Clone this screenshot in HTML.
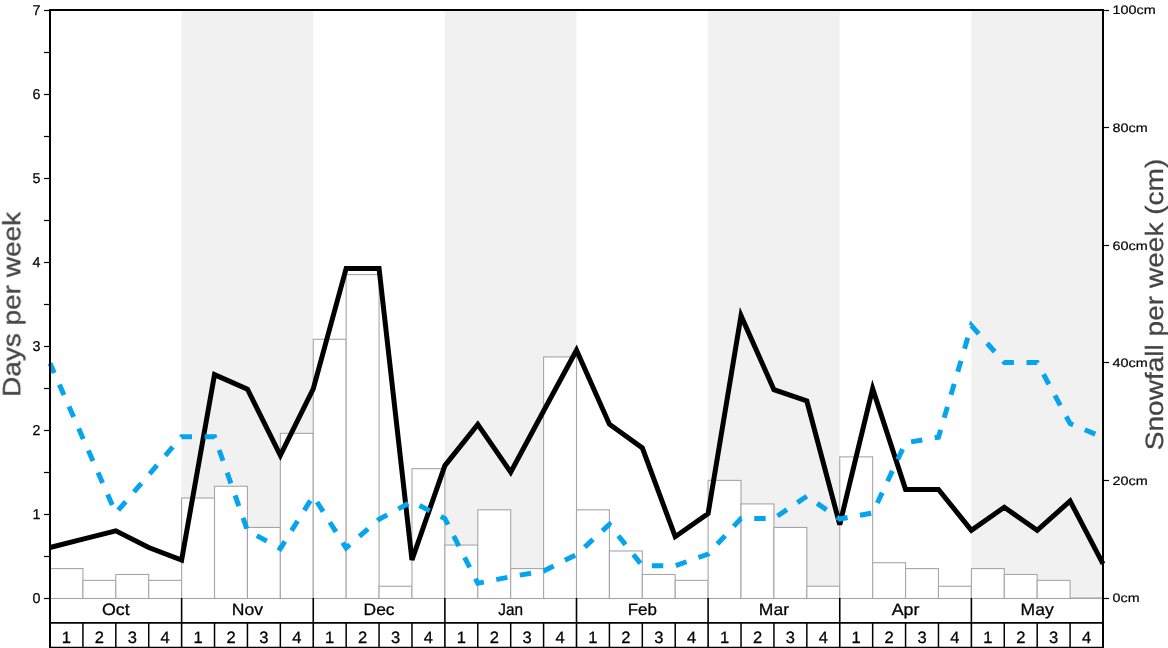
<!DOCTYPE html>
<html lang="en">
<head>
<meta charset="utf-8">
<title>Snowfall chart</title>
<style>
html,body{margin:0;padding:0;background:#fff;}
body{width:1168px;height:648px;overflow:hidden;font-family:"Liberation Sans",sans-serif;}
svg{display:block;}
svg text{text-rendering:geometricPrecision;}
</style>
</head>
<body>
<svg width="1168" height="648" viewBox="0 0 1168 648">
<rect x="0" y="0" width="1168" height="648" fill="#ffffff"/>
<rect x="181.62" y="10.0" width="131.62" height="588.0" fill="#f1f1f1"/>
<rect x="444.88" y="10.0" width="131.62" height="588.0" fill="#f1f1f1"/>
<rect x="708.12" y="10.0" width="131.62" height="588.0" fill="#f1f1f1"/>
<rect x="971.38" y="10.0" width="131.62" height="588.0" fill="#f1f1f1"/>
<rect x="50.00" y="568.60" width="32.91" height="29.90" fill="#ffffff" stroke="#a6a6a6" stroke-width="1.1"/>
<rect x="82.91" y="580.36" width="32.91" height="18.14" fill="#ffffff" stroke="#a6a6a6" stroke-width="1.1"/>
<rect x="115.81" y="574.48" width="32.91" height="24.02" fill="#ffffff" stroke="#a6a6a6" stroke-width="1.1"/>
<rect x="148.72" y="580.36" width="32.91" height="18.14" fill="#ffffff" stroke="#a6a6a6" stroke-width="1.1"/>
<rect x="181.62" y="498.04" width="32.91" height="100.46" fill="#ffffff" stroke="#a6a6a6" stroke-width="1.1"/>
<rect x="214.53" y="486.28" width="32.91" height="112.22" fill="#ffffff" stroke="#a6a6a6" stroke-width="1.1"/>
<rect x="247.44" y="527.44" width="32.91" height="71.06" fill="#ffffff" stroke="#a6a6a6" stroke-width="1.1"/>
<rect x="280.34" y="433.36" width="32.91" height="165.14" fill="#ffffff" stroke="#a6a6a6" stroke-width="1.1"/>
<rect x="313.25" y="339.28" width="32.91" height="259.22" fill="#ffffff" stroke="#a6a6a6" stroke-width="1.1"/>
<rect x="346.16" y="274.60" width="32.91" height="323.90" fill="#ffffff" stroke="#a6a6a6" stroke-width="1.1"/>
<rect x="379.06" y="586.24" width="32.91" height="12.26" fill="#ffffff" stroke="#a6a6a6" stroke-width="1.1"/>
<rect x="411.97" y="468.64" width="32.91" height="129.86" fill="#ffffff" stroke="#a6a6a6" stroke-width="1.1"/>
<rect x="444.88" y="545.08" width="32.91" height="53.42" fill="#ffffff" stroke="#a6a6a6" stroke-width="1.1"/>
<rect x="477.78" y="509.80" width="32.91" height="88.70" fill="#ffffff" stroke="#a6a6a6" stroke-width="1.1"/>
<rect x="510.69" y="568.60" width="32.91" height="29.90" fill="#ffffff" stroke="#a6a6a6" stroke-width="1.1"/>
<rect x="543.59" y="356.92" width="32.91" height="241.58" fill="#ffffff" stroke="#a6a6a6" stroke-width="1.1"/>
<rect x="576.50" y="509.80" width="32.91" height="88.70" fill="#ffffff" stroke="#a6a6a6" stroke-width="1.1"/>
<rect x="609.41" y="550.96" width="32.91" height="47.54" fill="#ffffff" stroke="#a6a6a6" stroke-width="1.1"/>
<rect x="642.31" y="574.48" width="32.91" height="24.02" fill="#ffffff" stroke="#a6a6a6" stroke-width="1.1"/>
<rect x="675.22" y="580.36" width="32.91" height="18.14" fill="#ffffff" stroke="#a6a6a6" stroke-width="1.1"/>
<rect x="708.12" y="480.40" width="32.91" height="118.10" fill="#ffffff" stroke="#a6a6a6" stroke-width="1.1"/>
<rect x="741.03" y="503.92" width="32.91" height="94.58" fill="#ffffff" stroke="#a6a6a6" stroke-width="1.1"/>
<rect x="773.94" y="527.44" width="32.91" height="71.06" fill="#ffffff" stroke="#a6a6a6" stroke-width="1.1"/>
<rect x="806.84" y="586.24" width="32.91" height="12.26" fill="#ffffff" stroke="#a6a6a6" stroke-width="1.1"/>
<rect x="839.75" y="456.88" width="32.91" height="141.62" fill="#ffffff" stroke="#a6a6a6" stroke-width="1.1"/>
<rect x="872.66" y="562.72" width="32.91" height="35.78" fill="#ffffff" stroke="#a6a6a6" stroke-width="1.1"/>
<rect x="905.56" y="568.60" width="32.91" height="29.90" fill="#ffffff" stroke="#a6a6a6" stroke-width="1.1"/>
<rect x="938.47" y="586.24" width="32.91" height="12.26" fill="#ffffff" stroke="#a6a6a6" stroke-width="1.1"/>
<rect x="971.38" y="568.60" width="32.91" height="29.90" fill="#ffffff" stroke="#a6a6a6" stroke-width="1.1"/>
<rect x="1004.28" y="574.48" width="32.91" height="24.02" fill="#ffffff" stroke="#a6a6a6" stroke-width="1.1"/>
<rect x="1037.19" y="580.36" width="32.91" height="18.14" fill="#ffffff" stroke="#a6a6a6" stroke-width="1.1"/>
<rect x="1070.09" y="598.00" width="32.91" height="0.50" fill="#ffffff" stroke="#a6a6a6" stroke-width="1.1"/>
<polyline points="50.00,547.50 82.91,539.20 115.81,530.80 148.72,547.50 181.62,560.00 214.53,374.60 247.44,389.20 280.34,455.40 313.25,388.90 346.16,268.40 379.06,268.40 411.97,560.00 444.88,465.60 477.78,424.40 510.69,472.20 543.59,411.00 576.50,350.20 609.41,424.20 642.31,447.90 675.22,536.70 708.12,513.50 741.03,315.70 773.94,389.70 806.84,401.00 839.75,524.60 872.66,388.70 905.56,489.40 938.47,489.40 971.38,530.30 1004.28,507.30 1037.19,530.30 1070.09,501.00 1103.00,563.80" fill="none" stroke="#000000" stroke-width="5" stroke-linejoin="miter" stroke-miterlimit="3.85"/>
<polyline points="50.00,363.30 82.91,438.15 115.81,513.00 148.72,474.85 181.62,436.70 214.53,436.70 247.44,530.50 280.34,548.60 313.25,496.00 346.16,548.00 379.06,519.30 411.97,501.50 444.88,518.60 477.78,583.30 510.69,576.70 543.59,571.00 576.50,554.60 609.41,524.40 642.31,565.80 675.22,565.80 708.12,554.00 741.03,518.40 773.94,518.40 806.84,496.20 839.75,519.00 872.66,513.00 905.56,442.80 938.47,437.20 971.38,325.50 1004.28,362.50 1037.19,362.50 1070.09,423.60 1103.00,437.40" fill="none" stroke="#04a4ee" stroke-width="5" stroke-dasharray="11.4 12.6" stroke-dashoffset="0.7" stroke-linejoin="miter" stroke-miterlimit="3.85"/>
<line x1="50.0" y1="9.0" x2="50.0" y2="648" stroke="#000" stroke-width="2"/>
<line x1="1103.0" y1="9.0" x2="1103.0" y2="648" stroke="#000" stroke-width="2"/>
<line x1="50.0" y1="10.0" x2="1103.0" y2="10.0" stroke="#000" stroke-width="2"/>
<g opacity="0.999">
<line x1="50.0" y1="622.9" x2="1103.0" y2="622.9" stroke="#000" stroke-width="1.8"/>
<line x1="50.0" y1="647.5" x2="1103.0" y2="647.5" stroke="#000" stroke-width="1.6"/>
<line x1="181.62" y1="598.0" x2="181.62" y2="648" stroke="#000" stroke-width="1.6"/>
<line x1="313.25" y1="598.0" x2="313.25" y2="648" stroke="#000" stroke-width="1.6"/>
<line x1="444.88" y1="598.0" x2="444.88" y2="648" stroke="#000" stroke-width="1.6"/>
<line x1="576.50" y1="598.0" x2="576.50" y2="648" stroke="#000" stroke-width="1.6"/>
<line x1="708.12" y1="598.0" x2="708.12" y2="648" stroke="#000" stroke-width="1.6"/>
<line x1="839.75" y1="598.0" x2="839.75" y2="648" stroke="#000" stroke-width="1.6"/>
<line x1="971.38" y1="598.0" x2="971.38" y2="648" stroke="#000" stroke-width="1.6"/>
<line x1="82.91" y1="622.9" x2="82.91" y2="648" stroke="#000" stroke-width="1.5"/>
<line x1="115.81" y1="622.9" x2="115.81" y2="648" stroke="#000" stroke-width="1.5"/>
<line x1="148.72" y1="622.9" x2="148.72" y2="648" stroke="#000" stroke-width="1.5"/>
<line x1="214.53" y1="622.9" x2="214.53" y2="648" stroke="#000" stroke-width="1.5"/>
<line x1="247.44" y1="622.9" x2="247.44" y2="648" stroke="#000" stroke-width="1.5"/>
<line x1="280.34" y1="622.9" x2="280.34" y2="648" stroke="#000" stroke-width="1.5"/>
<line x1="346.16" y1="622.9" x2="346.16" y2="648" stroke="#000" stroke-width="1.5"/>
<line x1="379.06" y1="622.9" x2="379.06" y2="648" stroke="#000" stroke-width="1.5"/>
<line x1="411.97" y1="622.9" x2="411.97" y2="648" stroke="#000" stroke-width="1.5"/>
<line x1="477.78" y1="622.9" x2="477.78" y2="648" stroke="#000" stroke-width="1.5"/>
<line x1="510.69" y1="622.9" x2="510.69" y2="648" stroke="#000" stroke-width="1.5"/>
<line x1="543.59" y1="622.9" x2="543.59" y2="648" stroke="#000" stroke-width="1.5"/>
<line x1="609.41" y1="622.9" x2="609.41" y2="648" stroke="#000" stroke-width="1.5"/>
<line x1="642.31" y1="622.9" x2="642.31" y2="648" stroke="#000" stroke-width="1.5"/>
<line x1="675.22" y1="622.9" x2="675.22" y2="648" stroke="#000" stroke-width="1.5"/>
<line x1="741.03" y1="622.9" x2="741.03" y2="648" stroke="#000" stroke-width="1.5"/>
<line x1="773.94" y1="622.9" x2="773.94" y2="648" stroke="#000" stroke-width="1.5"/>
<line x1="806.84" y1="622.9" x2="806.84" y2="648" stroke="#000" stroke-width="1.5"/>
<line x1="872.66" y1="622.9" x2="872.66" y2="648" stroke="#000" stroke-width="1.5"/>
<line x1="905.56" y1="622.9" x2="905.56" y2="648" stroke="#000" stroke-width="1.5"/>
<line x1="938.47" y1="622.9" x2="938.47" y2="648" stroke="#000" stroke-width="1.5"/>
<line x1="1004.28" y1="622.9" x2="1004.28" y2="648" stroke="#000" stroke-width="1.5"/>
<line x1="1037.19" y1="622.9" x2="1037.19" y2="648" stroke="#000" stroke-width="1.5"/>
<line x1="1070.09" y1="622.9" x2="1070.09" y2="648" stroke="#000" stroke-width="1.5"/>
<text x="115.81" y="614.7" font-size="16.5" text-anchor="middle" textLength="27.7" lengthAdjust="spacingAndGlyphs" font-family="Liberation Sans, sans-serif" fill="#000" stroke="#000" stroke-width="0.3">Oct</text>
<text x="247.44" y="614.7" font-size="16.5" text-anchor="middle" textLength="31.2" lengthAdjust="spacingAndGlyphs" font-family="Liberation Sans, sans-serif" fill="#000" stroke="#000" stroke-width="0.3">Nov</text>
<text x="379.06" y="614.7" font-size="16.5" text-anchor="middle" textLength="31.0" lengthAdjust="spacingAndGlyphs" font-family="Liberation Sans, sans-serif" fill="#000" stroke="#000" stroke-width="0.3">Dec</text>
<text x="510.69" y="614.7" font-size="16.5" text-anchor="middle" textLength="24.7" lengthAdjust="spacingAndGlyphs" font-family="Liberation Sans, sans-serif" fill="#000" stroke="#000" stroke-width="0.3">Jan</text>
<text x="642.31" y="614.7" font-size="16.5" text-anchor="middle" textLength="29.2" lengthAdjust="spacingAndGlyphs" font-family="Liberation Sans, sans-serif" fill="#000" stroke="#000" stroke-width="0.3">Feb</text>
<text x="773.94" y="614.7" font-size="16.5" text-anchor="middle" textLength="30.2" lengthAdjust="spacingAndGlyphs" font-family="Liberation Sans, sans-serif" fill="#000" stroke="#000" stroke-width="0.3">Mar</text>
<text x="905.56" y="614.7" font-size="16.5" text-anchor="middle" textLength="27.7" lengthAdjust="spacingAndGlyphs" font-family="Liberation Sans, sans-serif" fill="#000" stroke="#000" stroke-width="0.3">Apr</text>
<text x="1037.19" y="614.7" font-size="16.5" text-anchor="middle" textLength="33.1" lengthAdjust="spacingAndGlyphs" font-family="Liberation Sans, sans-serif" fill="#000" stroke="#000" stroke-width="0.3">May</text>
<text x="66.45" y="642.8" font-size="16.5" text-anchor="middle" font-family="Liberation Sans, sans-serif" fill="#000" stroke="#000" stroke-width="0.3">1</text>
<text x="99.36" y="642.8" font-size="16.5" text-anchor="middle" font-family="Liberation Sans, sans-serif" fill="#000" stroke="#000" stroke-width="0.3">2</text>
<text x="132.27" y="642.8" font-size="16.5" text-anchor="middle" font-family="Liberation Sans, sans-serif" fill="#000" stroke="#000" stroke-width="0.3">3</text>
<text x="165.17" y="642.8" font-size="16.5" text-anchor="middle" font-family="Liberation Sans, sans-serif" fill="#000" stroke="#000" stroke-width="0.3">4</text>
<text x="198.08" y="642.8" font-size="16.5" text-anchor="middle" font-family="Liberation Sans, sans-serif" fill="#000" stroke="#000" stroke-width="0.3">1</text>
<text x="230.98" y="642.8" font-size="16.5" text-anchor="middle" font-family="Liberation Sans, sans-serif" fill="#000" stroke="#000" stroke-width="0.3">2</text>
<text x="263.89" y="642.8" font-size="16.5" text-anchor="middle" font-family="Liberation Sans, sans-serif" fill="#000" stroke="#000" stroke-width="0.3">3</text>
<text x="296.80" y="642.8" font-size="16.5" text-anchor="middle" font-family="Liberation Sans, sans-serif" fill="#000" stroke="#000" stroke-width="0.3">4</text>
<text x="329.70" y="642.8" font-size="16.5" text-anchor="middle" font-family="Liberation Sans, sans-serif" fill="#000" stroke="#000" stroke-width="0.3">1</text>
<text x="362.61" y="642.8" font-size="16.5" text-anchor="middle" font-family="Liberation Sans, sans-serif" fill="#000" stroke="#000" stroke-width="0.3">2</text>
<text x="395.52" y="642.8" font-size="16.5" text-anchor="middle" font-family="Liberation Sans, sans-serif" fill="#000" stroke="#000" stroke-width="0.3">3</text>
<text x="428.42" y="642.8" font-size="16.5" text-anchor="middle" font-family="Liberation Sans, sans-serif" fill="#000" stroke="#000" stroke-width="0.3">4</text>
<text x="461.33" y="642.8" font-size="16.5" text-anchor="middle" font-family="Liberation Sans, sans-serif" fill="#000" stroke="#000" stroke-width="0.3">1</text>
<text x="494.23" y="642.8" font-size="16.5" text-anchor="middle" font-family="Liberation Sans, sans-serif" fill="#000" stroke="#000" stroke-width="0.3">2</text>
<text x="527.14" y="642.8" font-size="16.5" text-anchor="middle" font-family="Liberation Sans, sans-serif" fill="#000" stroke="#000" stroke-width="0.3">3</text>
<text x="560.05" y="642.8" font-size="16.5" text-anchor="middle" font-family="Liberation Sans, sans-serif" fill="#000" stroke="#000" stroke-width="0.3">4</text>
<text x="592.95" y="642.8" font-size="16.5" text-anchor="middle" font-family="Liberation Sans, sans-serif" fill="#000" stroke="#000" stroke-width="0.3">1</text>
<text x="625.86" y="642.8" font-size="16.5" text-anchor="middle" font-family="Liberation Sans, sans-serif" fill="#000" stroke="#000" stroke-width="0.3">2</text>
<text x="658.77" y="642.8" font-size="16.5" text-anchor="middle" font-family="Liberation Sans, sans-serif" fill="#000" stroke="#000" stroke-width="0.3">3</text>
<text x="691.67" y="642.8" font-size="16.5" text-anchor="middle" font-family="Liberation Sans, sans-serif" fill="#000" stroke="#000" stroke-width="0.3">4</text>
<text x="724.58" y="642.8" font-size="16.5" text-anchor="middle" font-family="Liberation Sans, sans-serif" fill="#000" stroke="#000" stroke-width="0.3">1</text>
<text x="757.48" y="642.8" font-size="16.5" text-anchor="middle" font-family="Liberation Sans, sans-serif" fill="#000" stroke="#000" stroke-width="0.3">2</text>
<text x="790.39" y="642.8" font-size="16.5" text-anchor="middle" font-family="Liberation Sans, sans-serif" fill="#000" stroke="#000" stroke-width="0.3">3</text>
<text x="823.30" y="642.8" font-size="16.5" text-anchor="middle" font-family="Liberation Sans, sans-serif" fill="#000" stroke="#000" stroke-width="0.3">4</text>
<text x="856.20" y="642.8" font-size="16.5" text-anchor="middle" font-family="Liberation Sans, sans-serif" fill="#000" stroke="#000" stroke-width="0.3">1</text>
<text x="889.11" y="642.8" font-size="16.5" text-anchor="middle" font-family="Liberation Sans, sans-serif" fill="#000" stroke="#000" stroke-width="0.3">2</text>
<text x="922.02" y="642.8" font-size="16.5" text-anchor="middle" font-family="Liberation Sans, sans-serif" fill="#000" stroke="#000" stroke-width="0.3">3</text>
<text x="954.92" y="642.8" font-size="16.5" text-anchor="middle" font-family="Liberation Sans, sans-serif" fill="#000" stroke="#000" stroke-width="0.3">4</text>
<text x="987.83" y="642.8" font-size="16.5" text-anchor="middle" font-family="Liberation Sans, sans-serif" fill="#000" stroke="#000" stroke-width="0.3">1</text>
<text x="1020.73" y="642.8" font-size="16.5" text-anchor="middle" font-family="Liberation Sans, sans-serif" fill="#000" stroke="#000" stroke-width="0.3">2</text>
<text x="1053.64" y="642.8" font-size="16.5" text-anchor="middle" font-family="Liberation Sans, sans-serif" fill="#000" stroke="#000" stroke-width="0.3">3</text>
<text x="1086.55" y="642.8" font-size="16.5" text-anchor="middle" font-family="Liberation Sans, sans-serif" fill="#000" stroke="#000" stroke-width="0.3">4</text>
<line x1="44.0" y1="598.50" x2="50.0" y2="598.50" stroke="#000" stroke-width="1.2"/>
<text x="40.5" y="603.10" font-size="14.3" text-anchor="end" font-family="Liberation Sans, sans-serif" fill="#000" stroke="#000" stroke-width="0.25">0</text>
<line x1="44.0" y1="514.50" x2="50.0" y2="514.50" stroke="#000" stroke-width="1.2"/>
<text x="40.5" y="519.10" font-size="14.3" text-anchor="end" font-family="Liberation Sans, sans-serif" fill="#000" stroke="#000" stroke-width="0.25">1</text>
<line x1="44.0" y1="430.50" x2="50.0" y2="430.50" stroke="#000" stroke-width="1.2"/>
<text x="40.5" y="435.10" font-size="14.3" text-anchor="end" font-family="Liberation Sans, sans-serif" fill="#000" stroke="#000" stroke-width="0.25">2</text>
<line x1="44.0" y1="346.50" x2="50.0" y2="346.50" stroke="#000" stroke-width="1.2"/>
<text x="40.5" y="351.10" font-size="14.3" text-anchor="end" font-family="Liberation Sans, sans-serif" fill="#000" stroke="#000" stroke-width="0.25">3</text>
<line x1="44.0" y1="262.50" x2="50.0" y2="262.50" stroke="#000" stroke-width="1.2"/>
<text x="40.5" y="267.10" font-size="14.3" text-anchor="end" font-family="Liberation Sans, sans-serif" fill="#000" stroke="#000" stroke-width="0.25">4</text>
<line x1="44.0" y1="178.50" x2="50.0" y2="178.50" stroke="#000" stroke-width="1.2"/>
<text x="40.5" y="183.10" font-size="14.3" text-anchor="end" font-family="Liberation Sans, sans-serif" fill="#000" stroke="#000" stroke-width="0.25">5</text>
<line x1="44.0" y1="94.50" x2="50.0" y2="94.50" stroke="#000" stroke-width="1.2"/>
<text x="40.5" y="99.10" font-size="14.3" text-anchor="end" font-family="Liberation Sans, sans-serif" fill="#000" stroke="#000" stroke-width="0.25">6</text>
<line x1="44.0" y1="10.50" x2="50.0" y2="10.50" stroke="#000" stroke-width="1.2"/>
<text x="40.5" y="15.10" font-size="14.3" text-anchor="end" font-family="Liberation Sans, sans-serif" fill="#000" stroke="#000" stroke-width="0.25">7</text>
<line x1="44.0" y1="556.50" x2="50.0" y2="556.50" stroke="#000" stroke-width="1.2"/>
<line x1="44.0" y1="472.50" x2="50.0" y2="472.50" stroke="#000" stroke-width="1.2"/>
<line x1="44.0" y1="388.50" x2="50.0" y2="388.50" stroke="#000" stroke-width="1.2"/>
<line x1="44.0" y1="304.50" x2="50.0" y2="304.50" stroke="#000" stroke-width="1.2"/>
<line x1="44.0" y1="220.50" x2="50.0" y2="220.50" stroke="#000" stroke-width="1.2"/>
<line x1="44.0" y1="136.50" x2="50.0" y2="136.50" stroke="#000" stroke-width="1.2"/>
<line x1="44.0" y1="52.50" x2="50.0" y2="52.50" stroke="#000" stroke-width="1.2"/>
<line x1="1103.0" y1="598.50" x2="1109.0" y2="598.50" stroke="#000" stroke-width="1.2"/>
<text x="1112.6" y="602.40" font-size="12.3" textLength="26.9" lengthAdjust="spacingAndGlyphs" font-family="Liberation Sans, sans-serif" fill="#000" stroke="#000" stroke-width="0.2">0cm</text>
<line x1="1103.0" y1="480.50" x2="1109.0" y2="480.50" stroke="#000" stroke-width="1.2"/>
<text x="1112.6" y="484.80" font-size="12.3" textLength="35.2" lengthAdjust="spacingAndGlyphs" font-family="Liberation Sans, sans-serif" fill="#000" stroke="#000" stroke-width="0.2">20cm</text>
<line x1="1103.0" y1="362.50" x2="1109.0" y2="362.50" stroke="#000" stroke-width="1.2"/>
<text x="1112.6" y="367.20" font-size="12.3" textLength="35.2" lengthAdjust="spacingAndGlyphs" font-family="Liberation Sans, sans-serif" fill="#000" stroke="#000" stroke-width="0.2">40cm</text>
<line x1="1103.0" y1="245.50" x2="1109.0" y2="245.50" stroke="#000" stroke-width="1.2"/>
<text x="1112.6" y="249.60" font-size="12.3" textLength="35.2" lengthAdjust="spacingAndGlyphs" font-family="Liberation Sans, sans-serif" fill="#000" stroke="#000" stroke-width="0.2">60cm</text>
<line x1="1103.0" y1="127.50" x2="1109.0" y2="127.50" stroke="#000" stroke-width="1.2"/>
<text x="1112.6" y="132.00" font-size="12.3" textLength="35.2" lengthAdjust="spacingAndGlyphs" font-family="Liberation Sans, sans-serif" fill="#000" stroke="#000" stroke-width="0.2">80cm</text>
<line x1="1103.0" y1="10.50" x2="1109.0" y2="10.50" stroke="#000" stroke-width="1.2"/>
<text x="1112.6" y="14.40" font-size="12.3" textLength="43.0" lengthAdjust="spacingAndGlyphs" font-family="Liberation Sans, sans-serif" fill="#000" stroke="#000" stroke-width="0.2">100cm</text>
<text transform="translate(20.2,396.9) rotate(-90)" font-size="25" textLength="185" lengthAdjust="spacingAndGlyphs" font-family="Liberation Sans, sans-serif" fill="#444444" stroke="#444444" stroke-width="0.3">Days per week</text>
<text transform="translate(1162.8,450.2) rotate(-90)" font-size="25" textLength="291.5" lengthAdjust="spacingAndGlyphs" font-family="Liberation Sans, sans-serif" fill="#444444" stroke="#444444" stroke-width="0.3">Snowfall per week (cm)</text>
</g>
</svg>
</body>
</html>
